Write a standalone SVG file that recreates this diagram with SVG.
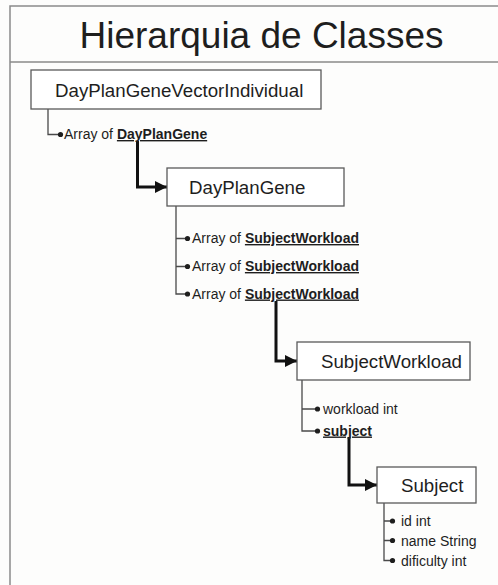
<svg xmlns="http://www.w3.org/2000/svg" width="498" height="585" viewBox="0 0 498 585">
  <style>
    .frame { fill: none; stroke: #8a8a8a; stroke-width: 1.5; }
    .box { fill: #ffffff; stroke: #5a5a5a; stroke-width: 1.3; }
    .title { font-family: "Liberation Sans", Arial, sans-serif; font-size: 37px; fill: #1e1e1e; }
    .name { font-family: "Liberation Sans", Arial, sans-serif; font-size: 18.7px; fill: #1e1e1e; }
    .member { font-family: "Liberation Sans", Arial, sans-serif; font-size: 14px; fill: #1e1e1e; }
    .ref { font-weight: bold; text-decoration: underline; }
    .branch { fill: none; stroke: #4a4a4a; stroke-width: 1.3; }
    .dot { fill: #1e1e1e; }
    .link { fill: none; stroke: #111111; stroke-width: 3; stroke-linejoin: miter; marker-end: url(#head); }
  </style>
  <defs>
    <marker id="head" markerUnits="userSpaceOnUse" markerWidth="13" markerHeight="13" refX="12" refY="6" orient="auto">
      <path d="M0,0 L12,6 L0,12 Z" fill="#111111"/>
    </marker>
  </defs>

  <rect width="498" height="585" fill="#fdfdfc"/>

  <!-- page frame and heading -->
  <g id="frame">
    <path class="frame" d="M498,6 H10 V585"/>
    <path class="frame" d="M10,62 H498"/>
    <text class="title" x="261.5" y="47.5" text-anchor="middle">Hierarquia de Classes</text>
  </g>

  <!-- member branches and reference arrows -->
  <g id="connectors">
    <path class="branch" d="M48,109 V134.5 H60"/>
    <path class="branch" d="M176,206 V294 H187 M176,238.5 H187 M176,266.5 H187"/>
    <path class="branch" d="M302,380 V431 H317 M302,409 H317"/>
    <path class="branch" d="M384,503 V560.5 H392 M384,521 H392 M384,540.5 H392"/>

    <path class="link" d="M137.5,141 V187 H167"/>
    <path class="link" d="M276,301 V361 H297"/>
    <path class="link" d="M349,437 V485 H377"/>
  </g>

  <g id="DayPlanGeneVectorIndividual">
    <rect class="box" x="31" y="70" width="290" height="39"/>
    <text class="name" x="55" y="97">DayPlanGeneVectorIndividual</text>
    <circle class="dot" cx="60.5" cy="134.5" r="2.6"/>
    <text class="member" x="64" y="139">Array of <tspan class="ref">DayPlanGene</tspan></text>
  </g>

  <g id="DayPlanGene">
    <rect class="box" x="167" y="168" width="177" height="38"/>
    <text class="name" x="189" y="193.5">DayPlanGene</text>
    <circle class="dot" cx="187.5" cy="238.5" r="2.6"/>
    <circle class="dot" cx="187.5" cy="266.5" r="2.6"/>
    <circle class="dot" cx="187.5" cy="294" r="2.6"/>
    <text class="member" x="192" y="243">Array of <tspan class="ref">SubjectWorkload</tspan></text>
    <text class="member" x="192" y="271">Array of <tspan class="ref">SubjectWorkload</tspan></text>
    <text class="member" x="192" y="298.5">Array of <tspan class="ref">SubjectWorkload</tspan></text>
  </g>

  <g id="SubjectWorkload">
    <rect class="box" x="297" y="342" width="173" height="38"/>
    <text class="name" x="321" y="367.5">SubjectWorkload</text>
    <circle class="dot" cx="317.5" cy="409" r="2.6"/>
    <circle class="dot" cx="317.5" cy="431" r="2.6"/>
    <text class="member" x="323" y="413.5">workload int</text>
    <text class="member ref" x="323" y="435.5">subject</text>
  </g>

  <g id="Subject">
    <rect class="box" x="377" y="467" width="99" height="36"/>
    <text class="name" x="401" y="491.5">Subject</text>
    <circle class="dot" cx="392.5" cy="521" r="2.6"/>
    <circle class="dot" cx="392.5" cy="540.5" r="2.6"/>
    <circle class="dot" cx="392.5" cy="560.5" r="2.6"/>
    <text class="member" x="401" y="526">id int</text>
    <text class="member" x="401" y="545.5">name String</text>
    <text class="member" x="401" y="565.5">dificulty int</text>
  </g>
</svg>
